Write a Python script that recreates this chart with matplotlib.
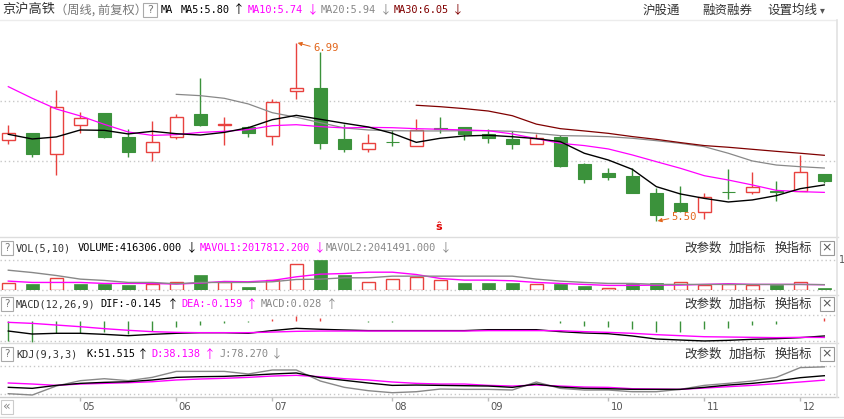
import numpy as np
import matplotlib
matplotlib.use('Agg')
import matplotlib.pyplot as plt
from matplotlib.patches import Rectangle

W, H = 844, 419
CJK = ['Noto Sans CJK SC', 'DejaVu Sans']
MONO = ['DejaVu Sans Mono', 'Noto Sans CJK SC']

RED = '#e8423f'
GREEN = '#3b923b'
MAG = '#ff00ff'
GRAY = '#888888'
DRED = '#800000'
ORANGE = '#e2661c'
GRID = '#c8c8c8'

# ---- weekly candles (front adjusted) ----
opens = [6.175, 6.236, 6.058, 6.300, 6.403, 6.203, 6.075, 6.200, 6.394, 6.300,
         6.286, 6.208, 6.583, 6.611, 6.186, 6.105, 6.162, 6.130, 6.275, 6.286,
         6.225, 6.186, 6.142, 6.203, 5.978, 5.903, 5.880, 5.736, 5.653, 5.575,
         5.748, 5.741, 5.755, 5.750, 5.894]
closes = [6.233, 6.064, 6.450, 6.358, 6.205, 6.080, 6.158, 6.367, 6.305, 6.310,
          6.239, 6.492, 6.608, 6.153, 6.105, 6.150, 6.158, 6.261, 6.270, 6.230,
          6.197, 6.147, 6.197, 5.964, 5.855, 5.872, 5.739, 5.555, 5.589, 5.700,
          5.744, 5.786, 5.741, 5.908, 5.839]
highs = [6.300, 6.236, 6.594, 6.411, 6.403, 6.269, 6.336, 6.394, 6.694, 6.369,
         6.294, 6.519, 6.990, 6.908, 6.311, 6.228, 6.261, 6.353, 6.369, 6.286,
         6.269, 6.255, 6.228, 6.219, 5.986, 5.944, 5.944, 5.778, 5.797, 5.736,
         5.936, 5.908, 5.836, 6.053, 5.894]
lows = [6.147, 6.039, 5.889, 6.239, 6.197, 6.039, 6.005, 6.189, 6.297, 6.139,
        6.205, 6.139, 6.522, 6.105, 6.080, 6.080, 6.130, 6.130, 6.239, 6.180,
        6.155, 6.105, 6.142, 5.955, 5.822, 5.847, 5.739, 5.500, 5.575, 5.522,
        5.690, 5.725, 5.672, 5.750, 5.822]

nan = np.nan
ma5 = [6.225, 6.186, 6.203, 6.261, 6.258, 6.228, 6.250, 6.230, 6.219, 6.241,
       6.280, 6.347, 6.383, 6.350, 6.317, 6.286, 6.233, 6.158, 6.192, 6.211,
       6.217, 6.205, 6.189, 6.164, 6.067, 6.011, 5.933, 5.789, 5.728, 5.691,
       5.661, 5.678, 5.714, 5.772, 5.803]
ma10 = [6.622, 6.525, 6.436, 6.378, 6.308, 6.244, 6.216, 6.222, 6.241, 6.250,
        6.264, 6.297, 6.305, 6.289, 6.278, 6.283, 6.280, 6.272, 6.267, 6.261,
        6.255, 6.228, 6.189, 6.150, 6.131, 6.103, 6.053, 5.997, 5.942, 5.880,
        5.844, 5.803, 5.758, 5.747, 5.741]
ma20 = [nan] * 7 + [6.558, 6.547, 6.525, 6.478, 6.405, 6.367, 6.322, 6.278, 6.261,
                    6.255, 6.253, 6.253, 6.255, 6.255, 6.250, 6.233, 6.214, 6.211,
                    6.205, 6.192, 6.172, 6.150, 6.122, 6.067, 6.003, 5.969, 5.955,
                    5.944]
ma30 = [nan] * 17 + [6.467, 6.455, 6.439, 6.419, 6.380, 6.310, 6.272, 6.253, 6.233,
                     6.206, 6.183, 6.156, 6.131, 6.117, 6.100, 6.083, 6.067, 6.050]

# volume, millions of shares
volume = [2.53, 2.27, 4.53, 2.27, 2.27, 1.87, 2.27, 2.93, 5.87, 2.93,
          1.07, 3.73, 10.53, 11.87, 5.87, 2.93, 4.13, 5.07, 3.87, 2.67,
          2.67, 2.67, 2.13, 2.27, 1.47, 0.67, 2.40, 2.67, 3.07, 1.73,
          2.13, 1.87, 1.87, 2.93, 0.50]
mavol1 = [3.47, 2.93, 2.93, 2.93, 2.53, 2.53, 2.53, 2.27, 2.67, 3.33,
          3.20, 3.73, 5.20, 6.27, 6.53, 7.07, 7.07, 6.13, 4.53, 3.87,
          3.87, 3.60, 2.93, 2.53, 2.13, 1.73, 1.73, 1.87, 1.87, 2.13,
          2.40, 2.13, 2.13, 2.13, 2.02]
mavol2 = [7.87, 6.93, 5.73, 4.27, 3.73, 2.93, 2.93, 2.40, 2.93, 2.93,
          2.93, 3.20, 4.13, 4.27, 4.80, 4.80, 5.47, 5.47, 5.47, 5.47,
          5.47, 5.47, 4.27, 3.47, 2.93, 2.53, 2.53, 2.13, 2.13, 2.13,
          2.13, 2.13, 2.13, 2.13, 2.04]

# MACD(12,26,9)
dif = [-0.097, -0.126, -0.119, -0.119, -0.129, -0.142, -0.129, -0.119, -0.113, -0.113,
       -0.119, -0.093, -0.071, -0.080, -0.087, -0.093, -0.093, -0.093, -0.093, -0.093,
       -0.084, -0.084, -0.084, -0.103, -0.116, -0.123, -0.145, -0.174, -0.184, -0.193,
       -0.187, -0.177, -0.171, -0.161, -0.145]
dea = [-0.013, -0.023, -0.039, -0.055, -0.074, -0.090, -0.103, -0.110, -0.113, -0.113,
       -0.113, -0.107, -0.100, -0.097, -0.097, -0.097, -0.097, -0.097, -0.097, -0.097,
       -0.093, -0.093, -0.093, -0.094, -0.103, -0.110, -0.119, -0.132, -0.142, -0.152,
       -0.155, -0.158, -0.161, -0.158, -0.159]
macd = [-0.190, -0.200, -0.120, -0.120, -0.110, -0.130, -0.093, -0.055, -0.039, -0.016,
        -0.005, 0.022, 0.052, 0.025, 0.002, -0.006, -0.006, 0.000, 0.004, 0.004,
        0.004, 0.000, 0.003, -0.016, -0.048, -0.055, -0.074, -0.103, -0.106, -0.081,
        -0.064, -0.039, -0.029, 0.004, 0.028]

# KDJ(9,3,3)
k_line = [16.3, 13.2, 22.2, 28.3, 31.3, 33.3, 38.5, 46.5, 48.5, 49.5,
          52.6, 56.7, 59.7, 45.5, 37.5, 29.4, 22.2, 23.2, 22.2, 21.2,
          20.2, 16.2, 26.3, 17.2, 13.1, 12.1, 10.1, 10.1, 10.1, 16.2,
          23.2, 28.3, 35.4, 45.5, 51.5]
d_line = [29.4, 26.3, 22.2, 26.3, 28.3, 30.3, 33.3, 38.5, 41.5, 43.6,
          46.5, 50.5, 52.6, 48.5, 42.4, 38.5, 32.4, 28.3, 26.3, 26.3,
          22.2, 20.2, 23.2, 20.2, 17.2, 16.2, 12.1, 11.1, 10.1, 14.1,
          18.2, 22.2, 27.3, 32.4, 38.1]
j_line = [-3.0, -7.0, 20.3, 36.4, 42.4, 36.4, 46.5, 64.6, 64.6, 64.6,
          56.7, 68.8, 68.8, 35.4, 16.3, 6.1, 0.0, 3.0, 11.1, 10.1,
          10.1, 8.1, 32.4, 13.1, 8.1, 8.1, 3.0, 3.0, 10.1, 22.2,
          28.3, 35.4, 46.5, 76.1, 78.3]

month_pos = [3, 7, 11, 16, 20, 25, 29, 33]
month_labels = ['05', '06', '07', '08', '09', '10', '11', '12']

o = np.array(opens); c = np.array(closes); hi = np.array(highs); lo = np.array(lows)
idx = np.arange(len(o))
up = c >= o
vol = np.array(volume) * 1e6
vol_up = np.r_[True, c[1:] >= c[:-1]]

fig = plt.figure(figsize=(W / 100, H / 100), dpi=100)
fig.patch.set_facecolor('white')
XL = (-8.3 / 24, (835.5 - 8.3) / 24)


def px_axes(x0, y0, x1, y1):
    a = fig.add_axes([x0 / W, 1 - y1 / H, (x1 - x0) / W, (y1 - y0) / H])
    a.set_xlim(*XL)
    a.axis('off')
    return a


def dotted(a, y):
    a.axhline(y, color=GRID, lw=1, ls=(0, (1, 2)), clip_on=False, zorder=0)


# ---- price panel ----
ax = px_axes(0, 21, 835.5, 235)
ax.set_ylim(6 + (161.3 - 235) / 120, 6 + (161.3 - 21) / 120)
dotted(ax, 6.5)
dotted(ax, 6.0)
bw = 0.56
ax.vlines(idx[~up], lo[~up], hi[~up], color=GREEN, lw=1, zorder=2)
ax.bar(idx[~up], c[~up] - o[~up], bottom=o[~up], width=bw, color=GREEN,
       edgecolor=GREEN, lw=0.8, zorder=3)
ax.vlines(idx[up], np.maximum(o, c)[up], hi[up], color=RED, lw=1, zorder=2)
ax.vlines(idx[up], lo[up], np.minimum(o, c)[up], color=RED, lw=1, zorder=2)
ax.bar(idx[up], c[up] - o[up], bottom=o[up], width=bw, facecolor='white',
       edgecolor=RED, lw=1, zorder=3)
ax.plot(idx, ma20, color=GRAY, lw=0.9, zorder=4)
ax.plot(idx, ma30, color=DRED, lw=0.9, zorder=4)
ax.plot(idx, ma10, color=MAG, lw=0.9, zorder=4)
ax.plot(idx, ma5, color='black', lw=1, zorder=5)

imax = int(np.argmax(hi)); imin = int(np.argmin(lo))
arrow = dict(arrowstyle='-|>', color=ORANGE, lw=0.7, mutation_scale=6,
             shrinkA=0, shrinkB=1, relpos=(0, 0.6))
ax.annotate('%.2f' % hi[imax], xy=(imax, hi[imax]), xytext=(12, -4),
            textcoords='offset points', color=ORANGE, fontsize=7.6, family=MONO,
            va='center', ha='left', arrowprops=arrow, zorder=6)
ax.annotate('%.2f' % lo[imin], xy=(imin, lo[imin]), xytext=(11, 3),
            textcoords='offset points', color=ORANGE, fontsize=7.6, family=MONO,
            va='center', ha='left', arrowprops=dict(arrow, relpos=(0, 0.4)), zorder=6)
ax.text(17.95, 6 + (161.3 - 227) / 120, 'ŝ', color='#e00000', fontsize=8,
        fontweight='bold', ha='center', va='center')

# ---- volume panel ----
av = px_axes(0, 260.3, 835.5, 289.7)
av.set_ylim(0, vol.max())
dotted(av, 0)
dotted(av, vol.max())
av.bar(idx[~vol_up], vol[~vol_up], width=bw, color=GREEN, edgecolor=GREEN, lw=0.5, zorder=2)
av.bar(idx[vol_up], vol[vol_up], width=bw, facecolor='white', edgecolor=RED, lw=1, zorder=2)
av.plot(idx, np.array(mavol1) * 1e6, color=MAG, lw=1, zorder=3)
av.plot(idx, np.array(mavol2) * 1e6, color=GRAY, lw=1, zorder=3)

# ---- MACD panel ----
am = px_axes(0, 315.3, 835.5, 341.3)
am.set_ylim((321 - 341.3) / 103.4, (321 - 315.3) / 103.4)
dotted(am, am.get_ylim()[0])
dotted(am, am.get_ylim()[1])
mh = np.array(macd)
am.vlines(idx, 0, mh, colors=np.where(mh >= 0, RED, GREEN), lw=1, clip_on=False)
am.plot(idx, dif, color='black', lw=1, clip_on=False)
am.plot(idx, dea, color=MAG, lw=1, clip_on=False)

# ---- KDJ panel ----
ak = px_axes(0, 366.3, 835.5, 394.3)
ak.set_ylim((392.7 - 394.3) / 0.33, (392.7 - 366.3) / 0.33)
dotted(ak, ak.get_ylim()[0])
dotted(ak, ak.get_ylim()[1])
ak.plot(idx, j_line, color=GRAY, lw=1, clip_on=False)
ak.plot(idx, d_line, color=MAG, lw=1, clip_on=False)
ak.plot(idx, k_line, color='black', lw=1, clip_on=False)

# ---- time axis ----
at = px_axes(0, 397.3, 835.5, 416)
at.set_ylim(0, 1)
at.vlines(month_pos, 0.8, 1.0, color='#bbbbbb', lw=1)
for p, lab in zip(month_pos, month_labels):
    at.text(p + 8.5 / 24, 0.5, lab, ha='center', va='center', fontsize=7.2,
            color='#555555', family=['DejaVu Sans'])

# ---- overlay: headers, frames ----
ov = fig.add_axes([0, 0, 1, 1], zorder=10)
ov.set_xlim(0, W); ov.set_ylim(H, 0); ov.axis('off')
ov.patch.set_alpha(0)

LC = '#dddddd'
ov.plot([0, 836], [20, 20], color='#ececec', lw=1)
for yy in (237, 295, 343):
    ov.plot([0, 838], [yy, yy], color=LC, lw=1)
ov.plot([0, 838], [397.3, 397.3], color='#cccccc', lw=1)
ov.plot([0, 844], [416.5, 416.5], color='#dddddd', lw=1)
ov.plot([836.5, 836.5], [20, 397], color='#e2e2e2', lw=1.2)

ov.text(2, 10, '京沪高铁', family=CJK, fontsize=9.5, color='#333333', va='center')
ov.text(55, 10, '（周线, 前复权）', family=CJK, fontsize=8.8, color='#777777', va='center')
ov.add_patch(Rectangle((143, 3), 14, 14, fill=False, ec='#aaaaaa', lw=0.8))
ov.text(150, 10, '?', ha='center', va='center', fontsize=8, color='#777777')


def seg(x, y, s, col, size=7.4):
    ov.text(x, y, s, color=col, fontsize=size, family=MONO, va='center', ha='left')


def arr(x, y, s, col):
    ov.text(x, y, s, color=col, fontsize=8.5, family=CJK, va='center', ha='left')


y0 = 10
seg(161, y0, 'MA', 'black')
seg(181, y0, 'MA5:5.80', 'black')
arr(233, y0, '↑', 'black')
seg(248, y0, 'MA10:5.74', MAG)
arr(307, y0, '↓', MAG)
seg(321, y0, 'MA20:5.94', GRAY)
arr(380, y0, '↓', GRAY)
seg(394, y0, 'MA30:6.05', DRED)
arr(452, y0, '↓', DRED)

for x, s in ((643, '沪股通'), (702, '融资融券'), (767, '设置均线')):
    ov.text(x, 10, s, family=CJK, fontsize=9, color='#333333', va='center')
ov.text(822, 10, '▾', fontsize=7, color='#555555', va='center', ha='center')

for yy in (248, 304, 354):
    ov.add_patch(Rectangle((0.5, yy - 7), 12, 14, fill=False, ec='#aaaaaa', lw=0.8))
    ov.text(6.5, yy, '?', ha='center', va='center', fontsize=7.5, color='#777777')
    for x, s in ((684, '改参数'), (729, '加指标'), (775, '换指标')):
        ov.text(x, yy, s, family=CJK, fontsize=9, color='#333333', va='center')
    ov.add_patch(Rectangle((820, yy - 7), 14, 14, fill=False, ec='#999999', lw=0.8))
    ov.text(827, yy, '×', ha='center', va='center', fontsize=9, color='#555555')

seg(16, 248, 'VOL(5,10)', '#333333')
seg(78, 248, 'VOLUME:416306.000', 'black')
arr(186, 248, '↓', 'black')
seg(200, 248, 'MAVOL1:2017812.200', MAG)
arr(314, 248, '↓', MAG)
seg(326, 248, 'MAVOL2:2041491.000', GRAY)
arr(440, 248, '↓', GRAY)
ov.text(838.5, 260, '1', fontsize=7, color='#555555', va='center')

seg(16, 304, 'MACD(12,26,9)', '#333333')
seg(100, 304, 'DIF:-0.145', 'black')
arr(167, 304, '↑', 'black')
seg(181, 304, 'DEA:-0.159', MAG)
arr(246, 304, '↑', MAG)
seg(261, 304, 'MACD:0.028', GRAY)
arr(326, 304, '↑', GRAY)

seg(16, 354, 'KDJ(9,3,3)', '#333333')
seg(86, 354, 'K:51.515', 'black')
arr(137, 354, '↑', 'black')
seg(151, 354, 'D:38.138', MAG)
arr(204, 354, '↑', MAG)
seg(219, 354, 'J:78.270', GRAY)
arr(271, 354, '↓', GRAY)

ov.add_patch(Rectangle((0.5, 399.5), 12, 14.5, fill=False, ec='#cccccc', lw=0.8))
ov.text(6.5, 406.5, '«', ha='center', va='center', fontsize=9, color='#888888')

plt.savefig('out.png', dpi=100)
